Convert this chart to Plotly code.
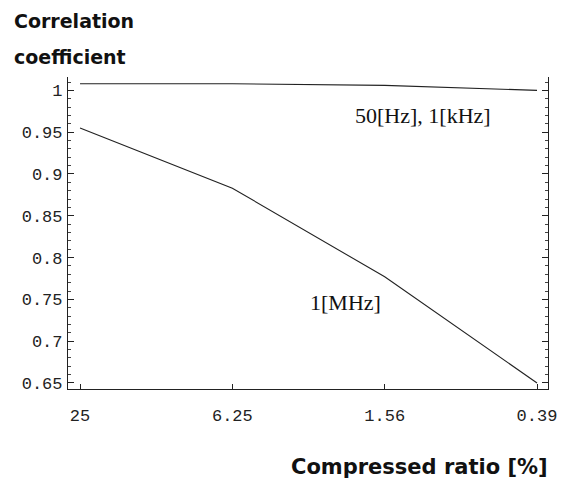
import plotly.graph_objects as go

categories = ["25", "6.25", "1.56", "0.39"]
low_freq = [1.008, 1.008, 1.006, 1.000]      # 50[Hz], 1[kHz]
high_freq = [0.955, 0.883, 0.777, 0.650]     # 1[MHz]
y_ticks = [0.65, 0.70, 0.75, 0.80, 0.85, 0.90, 0.95, 1.00]
y_ticktext = ["0.65", "0.7", "0.75", "0.8", "0.85", "0.9", "0.95", "1"]

line_style = dict(color="#222222", width=1.1)

fig = go.Figure()
fig.add_trace(go.Scatter(x=categories, y=low_freq, mode="lines", line=line_style, showlegend=False))
fig.add_trace(go.Scatter(x=categories, y=high_freq, mode="lines", line=line_style, showlegend=False))

tick_font = dict(family="Liberation Mono, Courier New, monospace", size=17, color="#222222")

# page has an 8px body margin; figure is sized so the plot lands where the reference has it
W, H = 559, 470
L, R, T, B = 60, 19, 69, 89
PW, PH = W - L - R, H - T - B

fig.update_layout(
    width=W, height=H,
    margin=dict(l=L, r=R, t=T, b=B, autoexpand=False),
    paper_bgcolor="white", plot_bgcolor="white",
    xaxis=dict(
        type="category", range=[-0.079, 3.072], automargin=False,
        showline=True, linecolor="#222222", linewidth=1.2, mirror=False,
        ticks="inside", ticklen=5, tickcolor="#222222",
        showgrid=False, zeroline=False,
        tickfont=tick_font, ticklabelstandoff=10,
    ),
    yaxis=dict(
        range=[0.6428, 1.016], automargin=False,
        tickvals=y_ticks, ticktext=y_ticktext,
        showline=True, linecolor="#222222", linewidth=1.2, mirror="ticks",
        ticks="inside", ticklen=6, tickcolor="#222222",
        minor=dict(dtick=0.01, tick0=0.65, ticks="inside", ticklen=3, tickcolor="#444444"),
        showgrid=False, zeroline=False,
        tickfont=tick_font, ticklabelstandoff=1,
    ),
)

ytitle_font = dict(family="DejaVu Sans, sans-serif", size=19, color="#111111")
xtitle_font = dict(family="DejaVu Sans, sans-serif", size=21, color="#111111")
serif_font = dict(family="Liberation Serif, Times New Roman, serif", size=22, color="#111111")

def px(xp):
    return (xp - 8 - L) / PW

def py(yp):
    return (H - B - (yp - 8)) / PH

fig.add_annotation(text="<b>Correlation</b>", xref="paper", yref="paper",
                   x=px(12), y=py(21), xanchor="left", yanchor="middle",
                   showarrow=False, font=ytitle_font)
fig.add_annotation(text="<b>coefficient</b>", xref="paper", yref="paper",
                   x=px(12), y=py(57), xanchor="left", yanchor="middle",
                   showarrow=False, font=ytitle_font)
fig.add_annotation(text="<b>Compressed ratio [%]</b>", xref="paper", yref="paper",
                   x=px(550), y=py(467), xanchor="right", yanchor="middle",
                   showarrow=False, font=xtitle_font)
fig.add_annotation(text="50[Hz], 1[kHz]", xref="paper", yref="paper",
                   x=px(353), y=py(115), xanchor="left", yanchor="middle",
                   showarrow=False, font=serif_font)
fig.add_annotation(text="1[MHz]", xref="paper", yref="paper",
                   x=px(308), y=py(302), xanchor="left", yanchor="middle",
                   showarrow=False, font=serif_font)

fig.write_html("out.html")
